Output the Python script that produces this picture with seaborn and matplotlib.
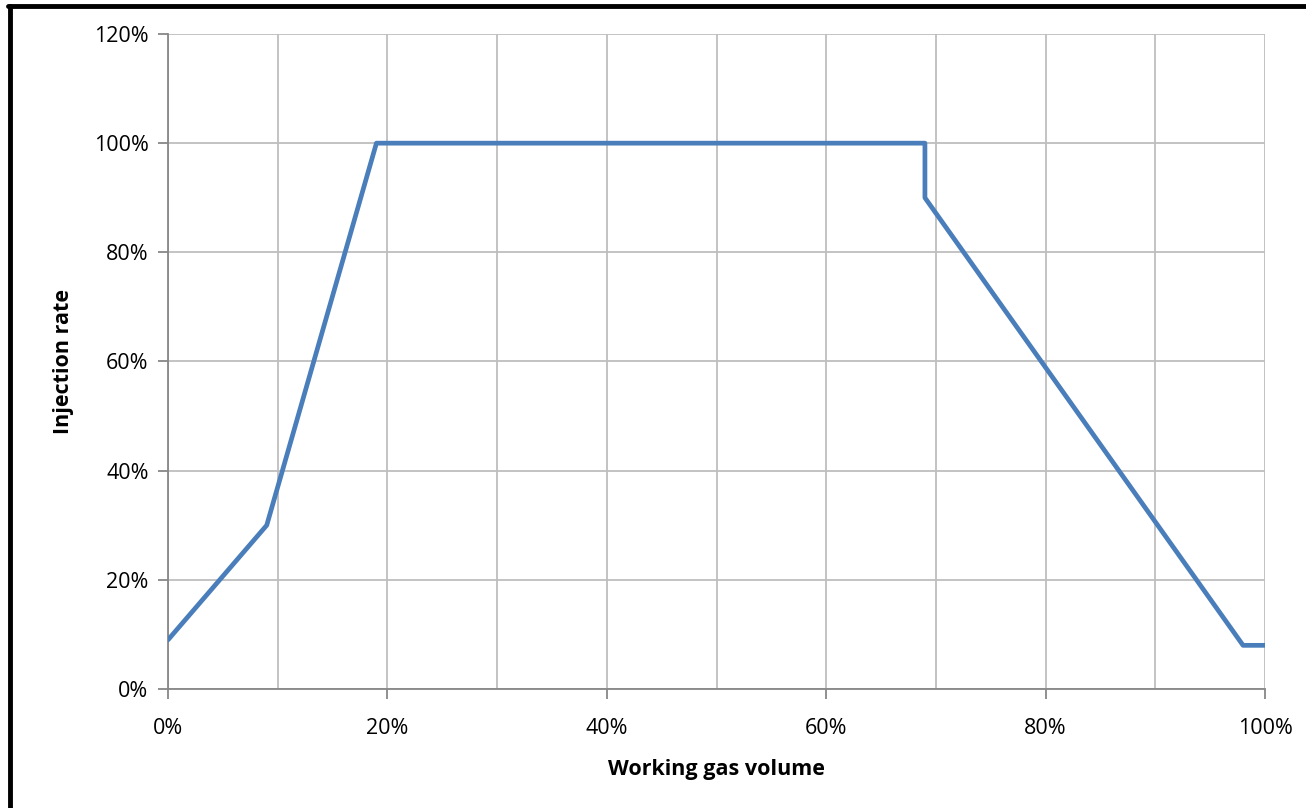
import matplotlib
matplotlib.use("Agg")
import matplotlib.pyplot as plt
from matplotlib.lines import Line2D
from matplotlib.ticker import MultipleLocator, FixedLocator, PercentFormatter
import seaborn as sns
import pandas as pd

# Data (fractions)
volume = [0.00, 0.09, 0.19, 0.69, 0.69, 0.98, 1.00]
rate = [0.09, 0.30, 1.00, 1.00, 0.90, 0.08, 0.08]

x_ticks = [0.0, 0.2, 0.4, 0.6, 0.8, 1.0]
y_ticks = [0.0, 0.2, 0.4, 0.6, 0.8, 1.0, 1.2]

sns.set_theme(style="white")
plt.rcParams['font.family'] = ['Open Sans', 'DejaVu Sans']

df = pd.DataFrame({"Working gas volume": volume, "Injection rate": rate})

fig = plt.figure(figsize=(13.06, 8.08), dpi=100)
ax = fig.add_axes([168/1306, 1-689/808, (1265-168)/1306, (689-34)/808])

sns.lineplot(data=df, x="Working gas volume", y="Injection rate", sort=False,
             estimator=None, color="#4A7EBB", linewidth=3.4, ax=ax, zorder=3)

ax.set_xlim(0, 1.0)
ax.set_ylim(0, 1.2)
ax.xaxis.set_major_locator(FixedLocator(x_ticks))
ax.xaxis.set_minor_locator(MultipleLocator(0.1))
ax.yaxis.set_major_locator(FixedLocator(y_ticks))
ax.xaxis.set_major_formatter(PercentFormatter(1.0, decimals=0))
ax.yaxis.set_major_formatter(PercentFormatter(1.0, decimals=0))

ax.grid(True, which="both", axis="x", color="#BEBEBE", linewidth=1.3)
ax.grid(True, which="major", axis="y", color="#BEBEBE", linewidth=1.3)
ax.set_axisbelow(True)

for s in ["top", "right"]:
    ax.spines[s].set_visible(False)
for s in ["left", "bottom"]:
    ax.spines[s].set_color("#878787")
    ax.spines[s].set_linewidth(1.3)

ax.tick_params(axis="both", which="major", length=7, width=1.3, color="#878787",
               labelsize=15.5, labelcolor="black", pad=7, bottom=True, left=True)
ax.tick_params(axis="x", which="minor", length=0)
ax.tick_params(axis="x", pad=14)

ax.set_xlabel("Working gas volume", fontsize=15.5, fontweight="bold", labelpad=14,
              color="black")
ax.set_ylabel("Injection rate", fontsize=15.5, fontweight="bold", labelpad=14,
              color="black")

# outer black frame (partially visible)
fig.add_artist(Line2D([10/1306, 10/1306], [0, 1-6/808], transform=fig.transFigure,
                      color="black", linewidth=3.5))
fig.add_artist(Line2D([8/1306, 1.0], [1-6/808, 1-6/808], transform=fig.transFigure,
                      color="black", linewidth=3.5))

fig.savefig("out.png", dpi=100)
